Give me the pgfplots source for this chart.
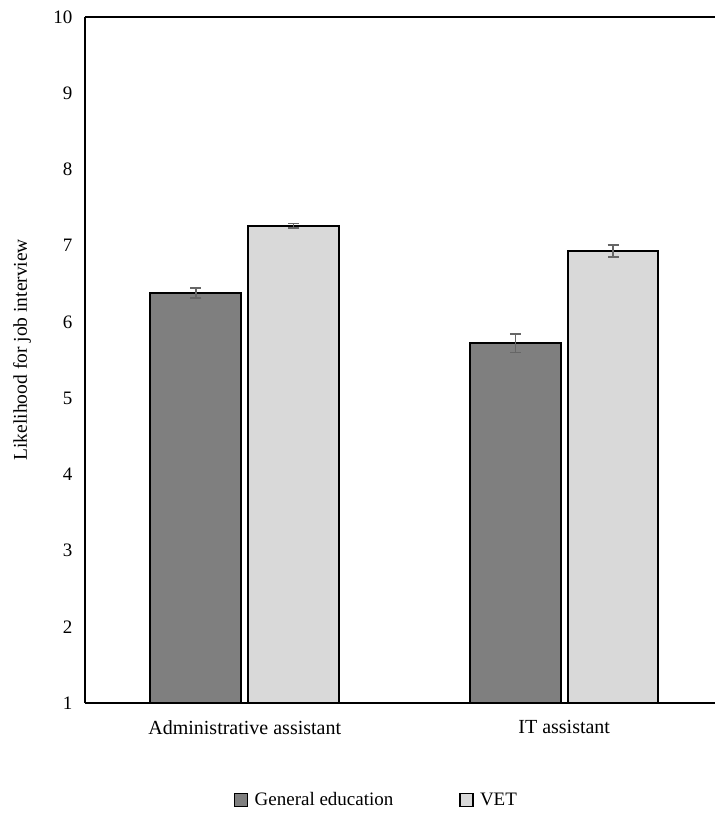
\documentclass[border=0pt]{standalone}
\usepackage{pgfplots}
\pgfplotsset{compat=1.18}
\usepackage{fontspec}
\setmainfont{Liberation Serif}
\definecolor{gen}{HTML}{7F7F7F}
\definecolor{vet}{HTML}{D9D9D9}
\definecolor{errc}{HTML}{666666}
\begin{document}
\begin{tikzpicture}
\begin{axis}[
  name=ax,
  at={(0,0)}, anchor=south west,
  scale only axis,
  width=630pt, height=686pt,
  xmin=-0.5, xmax=1.472,
  ymin=1, ymax=10,
  ytick={1,2,...,10},
  xtick={0,1},
  xticklabels={Administrative assistant, IT assistant},
  axis x line*=bottom,
  axis y line*=left,
  axis line style={line width=1.5pt, -},
  major tick length=0pt,
  /pgf/number format/assume math mode=true,
  tick label style={font=\fontsize{19}{22}\selectfont},
  xticklabel style={font=\fontsize{20}{23}\selectfont, yshift=-14pt},
  yticklabel style={xshift=-9pt},
  ylabel={Likelihood for job interview},
  every axis y label/.style={at={(axis description cs:-0.1,0.515)}, rotate=90, anchor=center, font=\fontsize{19.5}{22}\selectfont},
  legend columns=2,
  legend style={at={(axis description cs:0.4627,-0.1414)}, anchor=center, draw=none,
    font=\fontsize{19}{22}\selectfont,
    /tikz/every even column/.append style={column sep=64pt}},
  legend image code/.code={\draw[#1, draw=black, line width=1.2pt] (0pt,-6.5pt) rectangle (13pt,6.5pt); \path (17pt,0pt);},
  clip=true,
]
\addplot[ybar, bar width=0.284, fill=gen, draw=black, line width=2pt,
  error bars/.cd, y dir=both, y explicit,
  error bar style={color=errc, line width=1.5pt},
  error mark options={rotate=90, mark size=5.5pt, line width=1.5pt, color=errc}]
  coordinates {(-0.153,6.38) +- (0,0.065) (0.847,5.72) +- (0,0.12)};
\addlegendentry{General education}
\addplot[ybar, bar width=0.284, fill=vet, draw=black, line width=2pt,
  error bars/.cd, y dir=both, y explicit,
  error bar style={color=errc, line width=1.5pt},
  error mark options={rotate=90, mark size=5.5pt, line width=1.5pt, color=errc}]
  coordinates {(0.153,7.26) +- (0,0.03) (1.153,6.93) +- (0,0.08)};
\addlegendentry{VET}
\draw[line width=1.5pt] (rel axis cs:0,1) -- (rel axis cs:1,1);
\end{axis}
\path[use as bounding box] ([xshift=-85pt,yshift=-112pt]ax.south west) rectangle ([yshift=17pt]ax.north east);
\end{tikzpicture}
\end{document}
